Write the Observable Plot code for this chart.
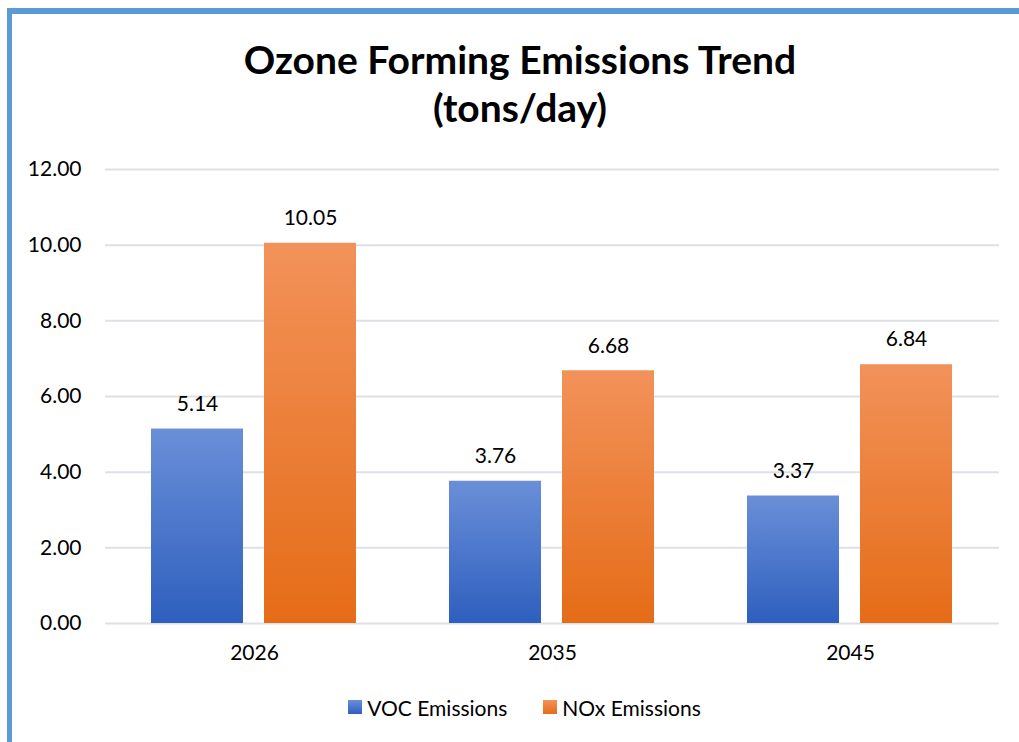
<!DOCTYPE html>
<html>
<head>
<meta charset="utf-8">
<script src="https://cdn.jsdelivr.net/npm/d3@7"></script>
<script src="https://cdn.jsdelivr.net/npm/@observablehq/plot@0.6"></script>
<style>
  html, body { margin: 0; padding: 0; background: #fff; }
  #page { position: relative; width: 1019px; height: 742px; overflow: hidden; font-family: Lato, "Open Sans", sans-serif; color: #000; }
  #frame { position: absolute; left: 7px; top: 8px; width: 1100px; height: 800px; border-left: 5px solid #5b9bd5; border-top: 6px solid #5b9bd5; box-sizing: border-box; }
  #title { position: absolute; left: 20px; top: 35px; width: 1000px; text-align: center; font-weight: bold; font-size: 39px; line-height: 48px; }
  #chart { position: absolute; left: 0; top: 140px; }
  #legend { position: absolute; left: 15px; top: 695px; width: 1019px; height: 24px; display: flex; justify-content: center; align-items: center; font-size: 21px; }
  .item { display: flex; align-items: center; margin: 0 18px; }
  .sw { width: 14px; height: 14px; margin-right: 5px; }
</style>
</head>
<body>
<div id="page">
  <div id="frame"></div>
  <div id="title">Ozone Forming Emissions Trend<br>(tons/day)</div>
  <div id="chart"></div>
  <div id="legend"></div>
</div>
<script>
const years = ["2026", "2035", "2045"];
const seriesNames = ["VOC Emissions", "NOx Emissions"];
const vocValues = [5.14, 3.76, 3.37];
const noxValues = [10.05, 6.68, 6.84];
const yTicks = [0, 2, 4, 6, 8, 10, 12];
const seriesFills = ["url(#gBlue)", "url(#gOrange)"];
const seriesStops = [["#6a8fd8", "#2e5fbe"], ["#f2925a", "#e56c17"]];

const rows = [];
years.forEach((yr, i) => {
  rows.push({year: yr, series: seriesNames[0], value: vocValues[i]});
  rows.push({year: yr, series: seriesNames[1], value: noxValues[i]});
});

const svg = Plot.plot({
  width: 1019,
  height: 540,
  marginTop: 29,
  marginBottom: 57,
  marginLeft: 104,
  marginRight: 19,
  style: {fontFamily: "Lato, 'Open Sans', sans-serif", fontSize: "21px", color: "#000", background: "transparent"},
  fx: {domain: years, padding: 0, label: null, tickSize: 0, tickPadding: 22},
  x: {domain: seriesNames, paddingInner: 0.184, paddingOuter: 0.402, axis: null},
  y: {domain: [0, 12], ticks: yTicks, tickFormat: d => d.toFixed(2), label: null, tickSize: 0, tickPadding: 24},
  marks: [
    Plot.gridY(yTicks, {stroke: "#dde1e6", strokeOpacity: 1, strokeWidth: 2}),
    ...seriesNames.map((s, k) =>
      Plot.barY(rows.filter(d => d.series === s), {fx: "year", x: "series", y: "value", fill: seriesFills[k]})
    ),
    Plot.text(rows, {fx: "year", x: "series", y: "value", text: d => d.value.toFixed(2), dy: -25, fill: "#000", fontSize: 21})
  ]
});

const ns = "http://www.w3.org/2000/svg";
const defs = document.createElementNS(ns, "defs");
["gBlue", "gOrange"].forEach((id, k) => {
  const g = document.createElementNS(ns, "linearGradient");
  g.setAttribute("id", id);
  g.setAttribute("x1", "0"); g.setAttribute("y1", "0");
  g.setAttribute("x2", "0"); g.setAttribute("y2", "1");
  seriesStops[k].forEach((c, j) => {
    const st = document.createElementNS(ns, "stop");
    st.setAttribute("offset", j === 0 ? "0" : "1");
    st.setAttribute("stop-color", c);
    g.appendChild(st);
  });
  defs.appendChild(g);
});
svg.insertBefore(defs, svg.firstChild);
document.getElementById("chart").appendChild(svg);

const legend = document.getElementById("legend");
seriesNames.forEach((s, k) => {
  const item = document.createElement("div");
  item.className = "item";
  const sw = document.createElement("div");
  sw.className = "sw";
  sw.style.background = `linear-gradient(${seriesStops[k][0]}, ${seriesStops[k][1]})`;
  const lab = document.createElement("span");
  lab.textContent = s;
  item.appendChild(sw);
  item.appendChild(lab);
  legend.appendChild(item);
});
</script>
</body>
</html>
